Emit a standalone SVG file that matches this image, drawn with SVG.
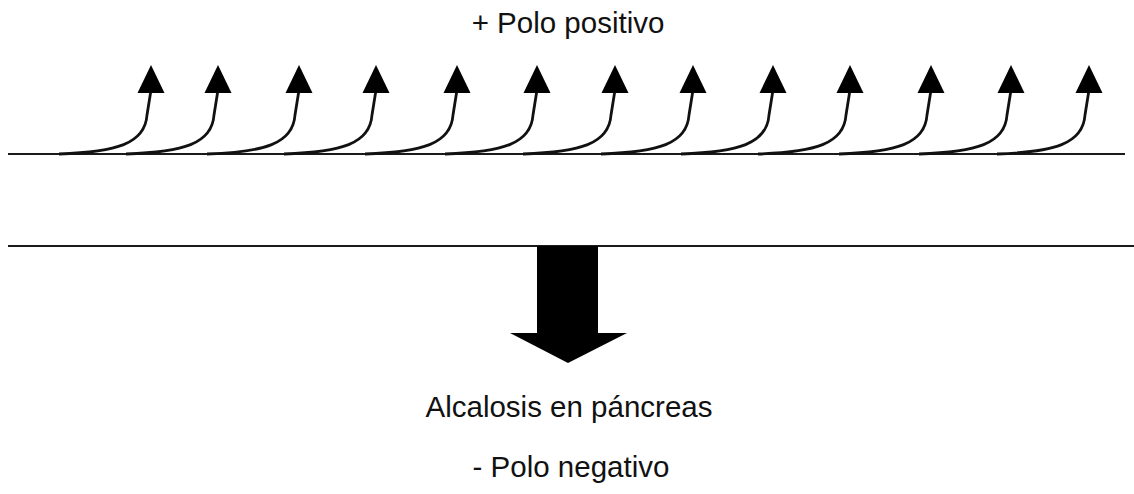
<svg xmlns="http://www.w3.org/2000/svg" width="1134" height="494" viewBox="0 0 1134 494">
<style>
.lbl{font-family:"Liberation Sans",Arial,sans-serif;font-size:29.5px;fill:#111;text-anchor:middle}
.ln{stroke:#1a1a1a;stroke-width:2;fill:none}
.cv{stroke:#111;stroke-width:2.8;fill:none}
.hd{fill:#000}
</style>
<defs>
<g id="curl">
<path class="cv" d="M-92,154 C-35,152 -6,144 -4,115 L0,90"/>
<polygon class="hd" points="0,65 -13.5,93 13.5,93"/>
</g>
</defs>
<rect width="1134" height="494" fill="#fff"/>
<g id="membrane-top"><line class="ln" x1="8" y1="154" x2="1125" y2="154"/></g>
<g id="membrane-bottom"><line class="ln" x1="8" y1="246" x2="1134" y2="246"/></g>
<g id="connectors">
<use href="#curl" x="151"/>
<use href="#curl" x="218"/>
<use href="#curl" x="299"/>
<use href="#curl" x="376"/>
<use href="#curl" x="457"/>
<use href="#curl" x="537"/>
<use href="#curl" x="615"/>
<use href="#curl" x="693"/>
<use href="#curl" x="773"/>
<use href="#curl" x="850"/>
<use href="#curl" x="931"/>
<use href="#curl" x="1011"/>
<use href="#curl" x="1089"/>
<polygon id="big-arrow" class="hd" points="537,246 598,246 598,333 627,333 568,363 510,333 537,333"/>
</g>
<g id="pos"><text class="lbl" x="568" y="33">+ Polo positivo</text></g>
<g id="alc"><text class="lbl" x="569" y="417">Alcalosis en páncreas</text></g>
<g id="neg"><text class="lbl" x="571" y="477">- Polo negativo</text></g>
</svg>
